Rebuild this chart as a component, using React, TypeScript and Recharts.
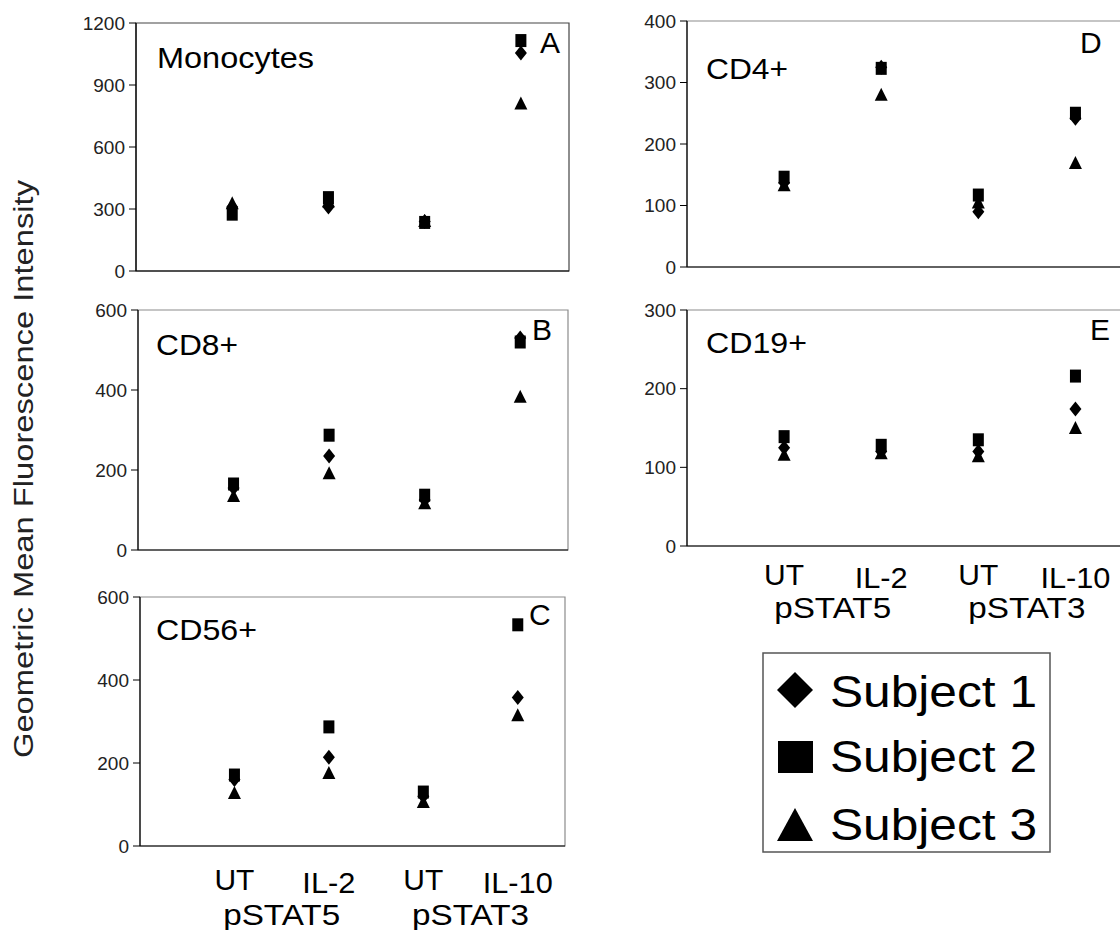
import React from "react"
import { ScatterChart, Scatter, XAxis, YAxis, ReferenceArea } from "recharts"

// x categories (shared by all panels)
const conditions = ["UT", "IL-2", "UT", "IL-10"]
const conditionX = [1, 2, 3, 4]
const stimGroups = ["pSTAT5", "pSTAT3"]
const groupX = [1.5, 3.5]
const subjects = ["Subject 1", "Subject 2", "Subject 3"]

// A - Monocytes
const monoS1 = [310, 310, 240, 1055]
const monoS2 = [275, 355, 235, 1115]
const monoS3 = [328, 338, 242, 810]
// B - CD8+
const cd8S1 = [155, 235, 125, 530]
const cd8S2 = [165, 287, 137, 520]
const cd8S3 = [135, 192, 117, 383]
// C - CD56+
const cd56S1 = [160, 214, 120, 358]
const cd56S2 = [171, 287, 130, 533]
const cd56S3 = [128, 176, 106, 315]
// D - CD4+
const cd4S1 = [137, 325, 90, 242]
const cd4S2 = [146, 323, 117, 250]
const cd4S3 = [133, 280, 105, 169]
// E - CD19+
const cd19S1 = [125, 120, 120, 174]
const cd19S2 = [139, 128, 135, 216]
const cd19S3 = [116, 118, 114, 150]

const FONT = "'Liberation Sans', Arial, sans-serif"

const toPoints = (values: number[]) => values.map((y, i) => ({ x: conditionX[i], y }))

const Diamond = ({ cx, cy }: any) => (
  <polygon points={`${cx},${cy - 7.5} ${cx + 6},${cy} ${cx},${cy + 7.5} ${cx - 6},${cy}`} fill="#000" />
)
const Square = ({ cx, cy }: any) => <rect x={cx - 5.5} y={cy - 6.5} width={11} height={13} fill="#000" />
const Triangle = ({ cx, cy }: any) => (
  <polygon points={`${cx},${cy - 7} ${cx + 6.5},${cy + 6} ${cx - 6.5},${cy + 6}`} fill="#000" />
)

const labelWidths: Record<string, number> = { UT: 40, "IL-2": 53, "IL-10": 70, pSTAT5: 117, pSTAT3: 117 }

const CategoryTick = ({ x, y, payload, dy1, dy2 }: any) => {
  const ci = conditionX.indexOf(payload.value)
  const gi = groupX.indexOf(payload.value)
  const text = ci >= 0 ? conditions[ci] : stimGroups[gi]
  const dy = ci >= 0 ? (ci % 2 === 1 ? dy1 + 3 : dy1) : dy2
  return (
    <text
      x={x}
      y={y + dy}
      textAnchor="middle"
      fontSize={30}
      fontFamily={FONT}
      fill="#000"
      textLength={labelWidths[text]}
      lengthAdjust="spacingAndGlyphs"
    >
      {text}
    </text>
  )
}

interface PanelProps {
  left: number
  top: number
  width: number
  height: number
  yMax: number
  yTicks: number[]
  s1: number[]
  s2: number[]
  s3: number[]
  showLabels?: boolean
  dy1?: number
  dy2?: number
  boxColor?: string
}

const Panel = ({ left, top, width, height, yMax, yTicks, s1, s2, s3, showLabels = false, dy1 = 44, dy2 = 78, boxColor = "#8c8c8c" }: PanelProps) => {
  const axisW = 70
  const bottom = showLabels ? 95 : 12
  return (
    <div style={{ position: "absolute", left: left - axisW, top: top - 10 }}>
      <ScatterChart
        width={axisW + width + 10}
        height={10 + height + bottom}
        margin={{ top: 10, right: 10, bottom: 0, left: 0 }}
      >
        <ReferenceArea x1={0} x2={4.5} y1={0} y2={yMax} fill="none" stroke={boxColor} strokeWidth={1.2} />
        <XAxis
          type="number"
          dataKey="x"
          domain={[0, 4.5]}
          ticks={[1, 1.5, 2, 3, 3.5, 4]}
          interval={0}
          height={bottom}
          axisLine={{ stroke: "#000", strokeWidth: 1.2 }}
          tickLine={false}
          tickSize={0}
          tickMargin={0}
          tick={showLabels ? <CategoryTick dy1={dy1} dy2={dy2} /> : false}
        />
        <YAxis
          type="number"
          dataKey="y"
          domain={[0, yMax]}
          ticks={yTicks}
          interval={0}
          width={axisW}
          axisLine={{ stroke: "#000", strokeWidth: 1.2 }}
          tickLine={{ stroke: "#000" }}
          tickSize={7}
          tickMargin={4}
          tick={{ fontSize: 19, fontFamily: FONT, fill: "#222" }}
        />
        <Scatter name={subjects[0]} data={toPoints(s1)} shape={Diamond} isAnimationActive={false} />
        <Scatter name={subjects[1]} data={toPoints(s2)} shape={Square} isAnimationActive={false} />
        <Scatter name={subjects[2]} data={toPoints(s3)} shape={Triangle} isAnimationActive={false} />
      </ScatterChart>
    </div>
  )
}

const titleProps = { fontSize: 30, fontFamily: FONT, fill: "#000", lengthAdjust: "spacingAndGlyphs" as const }

export default function App() {
  return (
    <div
      style={{
        position: "absolute",
        left: 0,
        top: 0,
        width: 1120,
        height: 930,
        overflow: "hidden",
        background: "#fff",
        fontFamily: FONT,
      }}
    >
      <Panel left={136} top={23} width={433} height={248} yMax={1200} yTicks={[0, 300, 600, 900, 1200]} s1={monoS1} s2={monoS2} s3={monoS3} boxColor="#444" />
      <Panel left={138} top={310} width={430} height={240} yMax={600} yTicks={[0, 200, 400, 600]} s1={cd8S1} s2={cd8S2} s3={cd8S3} />
      <Panel left={140} top={597} width={425} height={249} yMax={600} yTicks={[0, 200, 400, 600]} s1={cd56S1} s2={cd56S2} s3={cd56S3} showLabels dy1={44} dy2={79} />
      <Panel left={687} top={21} width={437} height={246} yMax={400} yTicks={[0, 100, 200, 300, 400]} s1={cd4S1} s2={cd4S2} s3={cd4S3} />
      <Panel left={687} top={310} width={437} height={236} yMax={300} yTicks={[0, 100, 200, 300]} s1={cd19S1} s2={cd19S2} s3={cd19S3} showLabels dy1={39} dy2={72} />

      <svg width={1120} height={930} style={{ position: "absolute", left: 0, top: 0, pointerEvents: "none" }}>
        <text x={157} y={68} textLength={157} {...titleProps}>Monocytes</text>
        <text x={156} y={355} textLength={82} {...titleProps}>CD8+</text>
        <text x={156} y={640} textLength={101} {...titleProps}>CD56+</text>
        <text x={706} y={79} textLength={82} {...titleProps}>CD4+</text>
        <text x={706} y={353} textLength={101} {...titleProps}>CD19+</text>

        <text x={540} y={53} {...titleProps}>A</text>
        <text x={532} y={340} {...titleProps}>B</text>
        <text x={529} y={625} {...titleProps}>C</text>
        <text x={1080} y={53} {...titleProps}>D</text>
        <text x={1090} y={340} {...titleProps}>E</text>

        <text
          transform="translate(33,469) rotate(-90)"
          textAnchor="middle"
          fontSize={27}
          fontFamily={FONT}
          fill="#222"
          textLength={578}
          lengthAdjust="spacingAndGlyphs"
        >
          Geometric Mean Fluorescence Intensity
        </text>

        {/* legend */}
        <rect x={763} y={653} width={287} height={199} fill="#fff" stroke="#555" strokeWidth={1.5} />
        <polygon points="795,672 813,690 795,708 777,690" fill="#000" />
        <rect x={778} y={741} width={35} height={32} fill="#000" />
        <polygon points="795,808 813,841 777,841" fill="#000" />
        <text x={830} y={707} fontSize={45} fontFamily={FONT} fill="#000" textLength={207} lengthAdjust="spacingAndGlyphs">{subjects[0]}</text>
        <text x={830} y={772} fontSize={45} fontFamily={FONT} fill="#000" textLength={207} lengthAdjust="spacingAndGlyphs">{subjects[1]}</text>
        <text x={830} y={840} fontSize={45} fontFamily={FONT} fill="#000" textLength={207} lengthAdjust="spacingAndGlyphs">{subjects[2]}</text>
      </svg>
    </div>
  )
}
